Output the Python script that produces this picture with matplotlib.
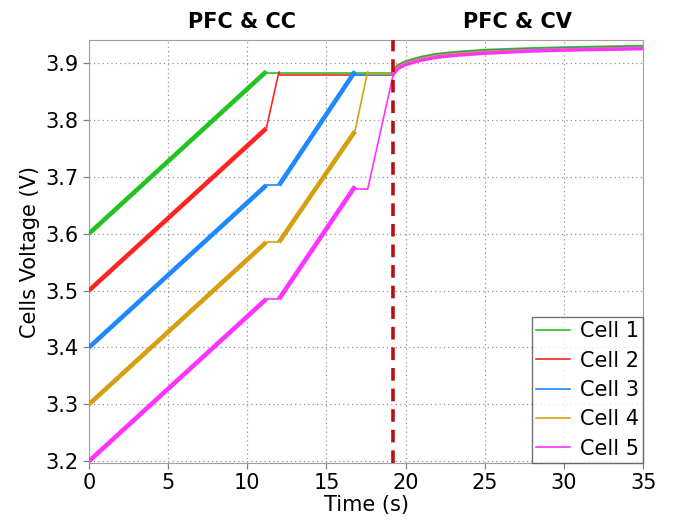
import matplotlib
matplotlib.use("Agg")
import matplotlib.pyplot as plt

# Cell voltage traces: time (s), voltage (V), and whether balancing current
# flows in each segment (1 = charging, 0 = idle / transition)
cells = ["Cell 1", "Cell 2", "Cell 3", "Cell 4", "Cell 5"]
colors = ["#22c322", "#ff2424", "#1e88ff", "#d4a010", "#ff33ff"]

t1 = [0, 11.2, 11.3, 19.2]
v1 = [3.600, 3.885, 3.882, 3.882]
c1 = [1, 0, 0]

t2 = [0, 11.2, 12.0, 12.05, 19.2]
v2 = [3.500, 3.785, 3.885, 3.878, 3.878]
c2 = [1, 0, 0, 0]

t3 = [0, 11.2, 12.0, 16.8, 16.85, 19.2]
v3 = [3.400, 3.685, 3.685, 3.885, 3.878, 3.878]
c3 = [1, 0, 1, 0, 0]

t4 = [0, 11.2, 12.0, 16.8, 17.6, 17.65, 19.2]
v4 = [3.300, 3.585, 3.585, 3.780, 3.885, 3.880, 3.880]
c4 = [1, 0, 1, 0, 0, 0]

t5 = [0, 11.2, 12.0, 16.8, 16.85, 17.6, 19.2]
v5 = [3.200, 3.485, 3.485, 3.683, 3.678, 3.678, 3.878]
c5 = [1, 0, 1, 0, 0, 0]

# Constant-voltage stage after the mode switch
t_cv = [19.2, 19.5, 20.0, 21.0, 22.0, 23.0, 25.0, 28.0, 31.0, 35.0]
v_cv1 = [3.884, 3.895, 3.902, 3.910, 3.915, 3.918, 3.922, 3.925, 3.927, 3.929]
v_cv2 = [3.882, 3.893, 3.900, 3.908, 3.913, 3.916, 3.920, 3.923, 3.925, 3.927]
v_cv3 = [3.882, 3.893, 3.900, 3.908, 3.913, 3.916, 3.920, 3.923, 3.925, 3.927]
v_cv4 = [3.881, 3.892, 3.899, 3.907, 3.912, 3.915, 3.919, 3.922, 3.924, 3.926]
v_cv5 = [3.879, 3.890, 3.897, 3.905, 3.910, 3.913, 3.917, 3.921, 3.923, 3.925]

t_switch = 19.2

xticks = [0, 5, 10, 15, 20, 25, 30, 35]
yticks = [3.2, 3.3, 3.4, 3.5, 3.6, 3.7, 3.8, 3.9]

traces = [(t1, v1, c1, v_cv1), (t2, v2, c2, v_cv2), (t3, v3, c3, v_cv3),
          (t4, v4, c4, v_cv4), (t5, v5, c5, v_cv5)]

plt.rcParams["font.family"] = ["DejaVu Sans"]
fig = plt.figure(figsize=(6.82, 5.29), dpi=100)
ax = fig.add_axes([0.1305, 0.125, 0.8125, 0.799])

for name, col, (t, v, c, vcv) in zip(cells, colors, traces):
    for i, flag in enumerate(c):
        ax.plot(t[i:i + 2], v[i:i + 2], color=col,
                lw=3.3 if flag else 1.2, solid_capstyle="butt", zorder=3)
    ax.plot(t_cv, vcv, color=col, lw=2.4, zorder=3)
    ax.plot([], [], color=col, lw=1.2, label=name)

ax.axvline(t_switch, color="#b81010", lw=2.6, ls=(0, (3.5, 2.2)), zorder=4)

ax.set_xlim(0, 35)
ax.set_ylim(3.197, 3.94)
ax.set_xticks(xticks)
ax.set_yticks(yticks)
ax.set_xticklabels([str(x) for x in xticks])
ax.set_yticklabels([f"{y:.1f}" for y in yticks])
ax.tick_params(labelsize=15, direction="out", length=4, color="#808080", width=0.9)
ax.grid(True, ls=(0, (1, 2.5)), color="#909090", lw=0.9)
for s in ax.spines.values():
    s.set_color("#a0a0a0")

ax.set_xlabel("Time (s)", fontsize=15, labelpad=1)
ax.set_ylabel("Cells Voltage (V)", fontsize=15, labelpad=4)

leg = ax.legend(loc="lower right", fontsize=15, frameon=True, fancybox=False,
                borderpad=0.2, labelspacing=0.45, handlelength=1.6,
                handletextpad=0.5, borderaxespad=0.0)
leg.get_frame().set_edgecolor("#505050")
leg.get_frame().set_linewidth(1.0)

fig.text(242 / 682, 1 - 22 / 529, "PFC & CC", fontsize=15, fontweight="bold",
         ha="center", va="center")
fig.text(517 / 682, 1 - 22 / 529, "PFC & CV", fontsize=15, fontweight="bold",
         ha="center", va="center")

fig.savefig("out.png", dpi=100)
